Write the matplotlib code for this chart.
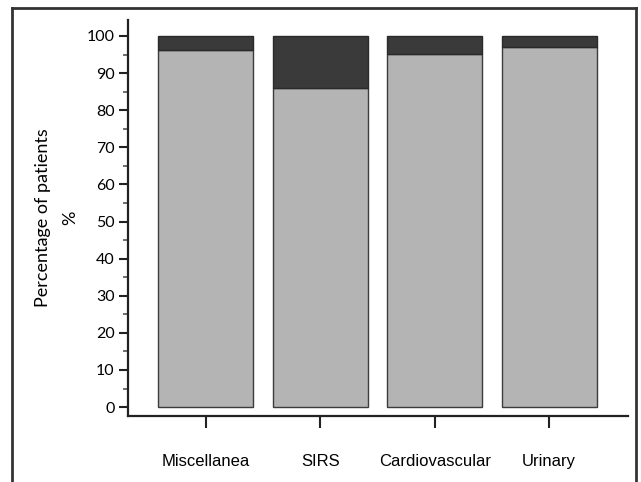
import matplotlib
matplotlib.use("Agg")
import matplotlib.pyplot as plt
from matplotlib.lines import Line2D
from matplotlib.ticker import MultipleLocator

categories = ["Miscellanea", "SIRS", "Cardiovascular", "Urinary"]
lower_pct = [96.2, 86.0, 95.2, 97.1]
upper_pct = [100 - v for v in lower_pct]
y_ticks = [0, 10, 20, 30, 40, 50, 60, 70, 80, 90, 100]

W, H = 641, 482
fig = plt.figure(figsize=(W / 100, H / 100), dpi=100)
ax = fig.add_axes([128 / W, 1 - 416 / H, (628 - 128) / W, (416 - 20) / H])

x = list(range(len(categories)))
ax.bar(x, lower_pct, width=0.83, color="#b4b4b4", edgecolor="#3c3c3c", linewidth=1.0)
ax.bar(x, upper_pct, bottom=lower_pct, width=0.83, color="#3a3a3a",
       edgecolor="#2a2a2a", linewidth=1.0)

ax.set_xlim(-0.68, 3.69)
ax.set_ylim(-2.4, 104.3)
ax.set_yticks(y_ticks)
ax.yaxis.set_minor_locator(MultipleLocator(5))
ax.set_xticks(x)
ax.set_xticklabels(categories, fontfamily="Liberation Sans", fontsize=12)
for t in ax.get_yticklabels():
    t.set_fontfamily("Lato")
    t.set_fontsize(11.5)

for s in ["top", "right"]:
    ax.spines[s].set_visible(False)
for s in ["left", "bottom"]:
    ax.spines[s].set_linewidth(1.6)
    ax.spines[s].set_color("#222222")

ax.tick_params(axis="y", which="major", length=6.5, width=1.5, color="#222222", pad=3)
ax.tick_params(axis="y", which="minor", length=3.6, width=1.2, color="#555555")
ax.tick_params(axis="x", which="major", length=8.6, width=1.5, color="#222222",
               pad=19, direction="out")

ax.set_ylabel("Percentage of patients\n%", fontfamily="Lato", fontsize=13,
              linespacing=1.9, labelpad=6)

# outer frame around the figure, open at the bottom edge
fx0, fx1, fy = 12 / W, 636 / W, 1 - 8 / H
for xs, ys in [([fx0, fx0], [0, fy]), ([fx0, fx1], [fy, fy]), ([fx1, fx1], [fy, 0])]:
    fig.add_artist(Line2D(xs, ys, transform=fig.transFigure, color="#333333",
                          linewidth=2.0, solid_capstyle="projecting"))

fig.savefig("out.png", dpi=100)
